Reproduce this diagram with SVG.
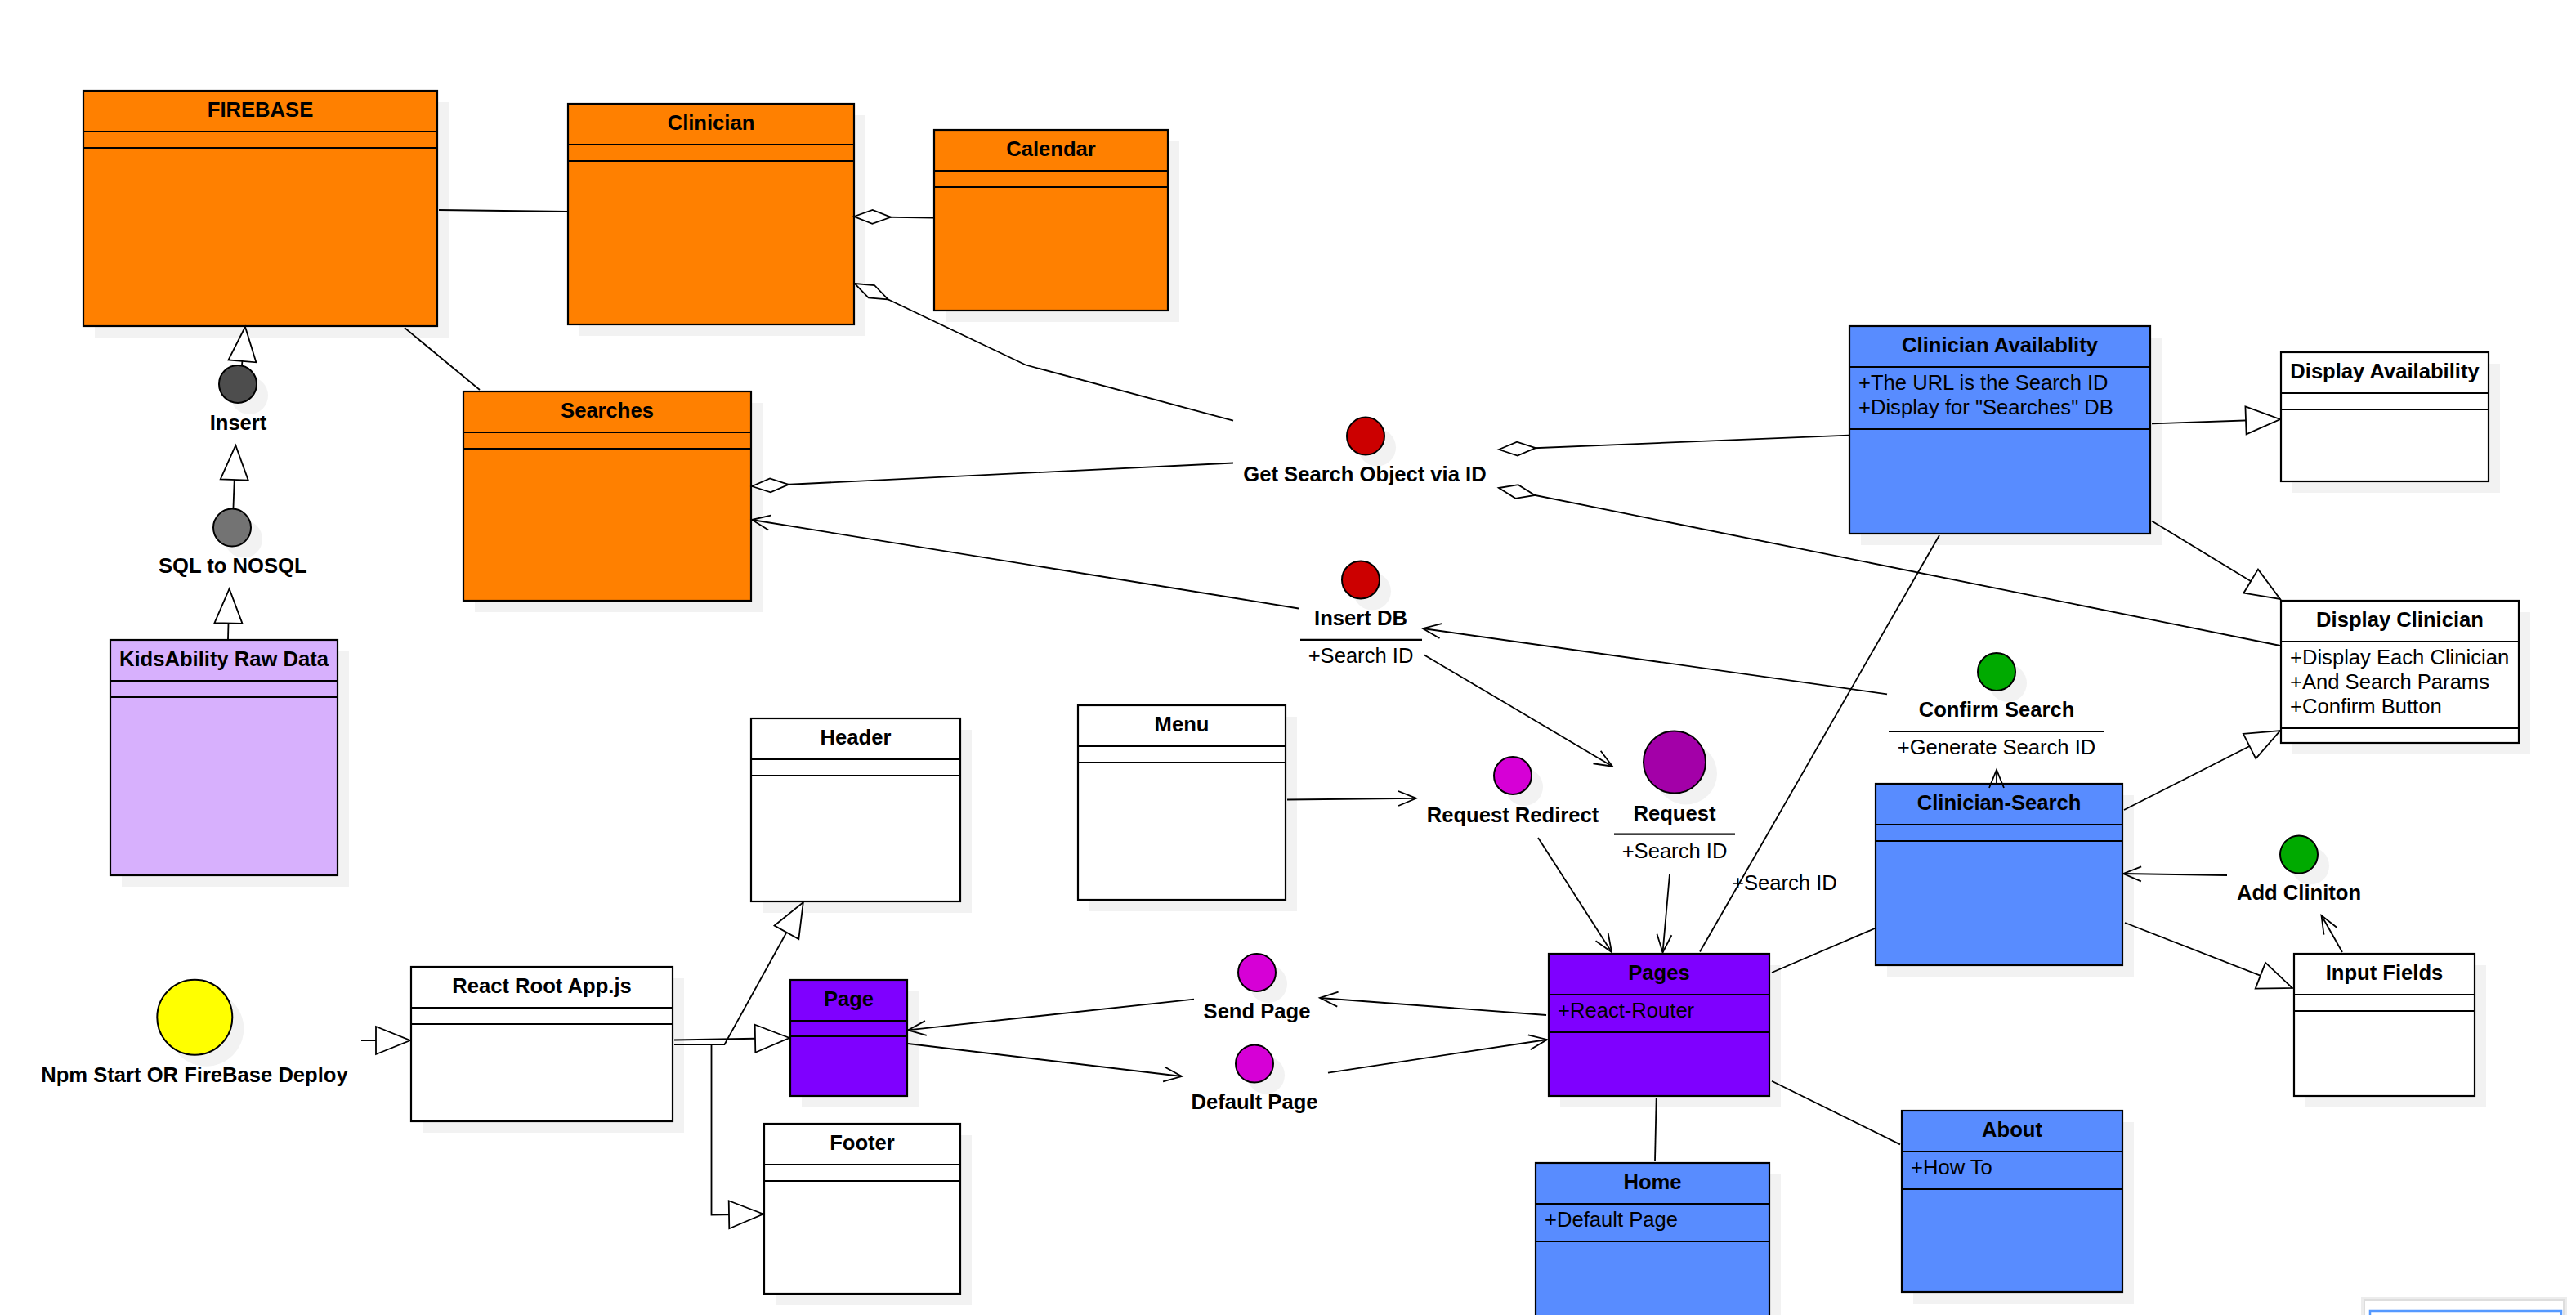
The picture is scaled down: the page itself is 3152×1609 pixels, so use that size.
<svg xmlns="http://www.w3.org/2000/svg" width="3152" height="1609" viewBox="0 0 3152 1609">
<style>
.bg{fill:#ffffff}
.sh{fill:#f2f2f2}
.box{stroke:#000;stroke-width:2.2}
.ln{stroke:#000;stroke-width:2.2}
.t{font-family:"Liberation Sans",Arial,sans-serif;font-size:25.6px;fill:#000;transform:translate(0px,-2px)}
.b{font-weight:bold}
.c{text-anchor:middle}
.e{fill:none;stroke:#000;stroke-width:1.8}
.or{fill:#ff8000}.pu{fill:#7f00ff}.bl{fill:#588cff}.wh{fill:#ffffff}.lv{fill:#d7b0fd}
.act{stroke:#000;stroke-width:2}
</style>
<defs>
<marker id="open" markerUnits="userSpaceOnUse" markerWidth="30" markerHeight="24" refX="22" refY="10" orient="auto" overflow="visible"><path d="M0,1 L22,10 L0,19" fill="none" stroke="#000" stroke-width="1.8"/></marker>
<marker id="tri" markerUnits="userSpaceOnUse" markerWidth="46" markerHeight="38" refX="42" refY="17" orient="auto" overflow="visible"><path d="M0,0 L42,17 L0,34 Z" fill="#fff" stroke="#000" stroke-width="1.8"/></marker>
<marker id="dia" markerUnits="userSpaceOnUse" markerWidth="48" markerHeight="20" refX="0" refY="9" orient="auto" overflow="visible"><path d="M0,9 L22.5,0.5 L45,9 L22.5,17.5 Z" fill="#fff" stroke="#000" stroke-width="1.8"/></marker>
</defs>
<rect class="bg" x="0" y="0" width="3152" height="1609"/>

<g id="firebase">
<rect class="sh" x="116" y="125" width="433" height="288"/>
<rect class="box or" x="102" y="111" width="433" height="288"/>
<line class="ln" x1="102" y1="161" x2="535" y2="161"/><line class="ln" x1="102" y1="181" x2="535" y2="181"/>
<text class="t b c" x="318.5" y="145">FIREBASE</text>
</g>
<g id="clinician">
<rect class="sh" x="709" y="141" width="350" height="270"/>
<rect class="box or" x="695" y="127" width="350" height="270"/>
<line class="ln" x1="695" y1="177" x2="1045" y2="177"/><line class="ln" x1="695" y1="197" x2="1045" y2="197"/>
<text class="t b c" x="870" y="161">Clinician</text>
</g>
<g id="calendar">
<rect class="sh" x="1157" y="173" width="286" height="221"/>
<rect class="box or" x="1143" y="159" width="286" height="221"/>
<line class="ln" x1="1143" y1="209" x2="1429" y2="209"/><line class="ln" x1="1143" y1="229" x2="1429" y2="229"/>
<text class="t b c" x="1286" y="193">Calendar</text>
</g>
<g id="searches">
<rect class="sh" x="581" y="493" width="352" height="256"/>
<rect class="box or" x="567" y="479" width="352" height="256"/>
<line class="ln" x1="567" y1="529" x2="919" y2="529"/><line class="ln" x1="567" y1="549" x2="919" y2="549"/>
<text class="t b c" x="743" y="513">Searches</text>
</g>
<g id="kidsability">
<rect class="sh" x="149" y="797" width="278" height="288"/>
<rect class="box lv" x="135" y="783" width="278" height="288"/>
<line class="ln" x1="135" y1="833" x2="413" y2="833"/><line class="ln" x1="135" y1="853" x2="413" y2="853"/>
<text class="t b c" x="274" y="817">KidsAbility Raw Data</text>
</g>
<g id="react-root">
<rect class="sh" x="517" y="1197" width="320" height="189"/>
<rect class="box wh" x="503" y="1183" width="320" height="189"/>
<line class="ln" x1="503" y1="1233" x2="823" y2="1233"/><line class="ln" x1="503" y1="1253" x2="823" y2="1253"/>
<text class="t b c" x="663" y="1217">React Root App.js</text>
</g>
<g id="header">
<rect class="sh" x="933" y="893" width="256" height="224"/>
<rect class="box wh" x="919" y="879" width="256" height="224"/>
<line class="ln" x1="919" y1="929" x2="1175" y2="929"/><line class="ln" x1="919" y1="949" x2="1175" y2="949"/>
<text class="t b c" x="1047" y="913">Header</text>
</g>
<g id="menu">
<rect class="sh" x="1333" y="877" width="254" height="238"/>
<rect class="box wh" x="1319" y="863" width="254" height="238"/>
<line class="ln" x1="1319" y1="913" x2="1573" y2="913"/><line class="ln" x1="1319" y1="933" x2="1573" y2="933"/>
<text class="t b c" x="1446" y="897">Menu</text>
</g>
<g id="page">
<rect class="sh" x="981" y="1213" width="143" height="142"/>
<rect class="box pu" x="967" y="1199" width="143" height="142"/>
<line class="ln" x1="967" y1="1249" x2="1110" y2="1249"/><line class="ln" x1="967" y1="1268" x2="1110" y2="1268"/>
<text class="t b c" x="1038.5" y="1233">Page</text>
</g>
<g id="footer">
<rect class="sh" x="949" y="1389" width="240" height="208"/>
<rect class="box wh" x="935" y="1375" width="240" height="208"/>
<line class="ln" x1="935" y1="1425" x2="1175" y2="1425"/><line class="ln" x1="935" y1="1445" x2="1175" y2="1445"/>
<text class="t b c" x="1055" y="1409">Footer</text>
</g>
<g id="pages">
<rect class="sh" x="1909" y="1181" width="270" height="174"/>
<rect class="box pu" x="1895" y="1167" width="270" height="174"/>
<line class="ln" x1="1895" y1="1217" x2="2165" y2="1217"/><line class="ln" x1="1895" y1="1263" x2="2165" y2="1263"/>
<text class="t b c" x="2030" y="1201">Pages</text>
<text class="t" x="1906" y="1247">+React-Router</text>
</g>
<g id="home">
<rect class="sh" x="1893" y="1437" width="286" height="260"/>
<rect class="box bl" x="1879" y="1423" width="286" height="260"/>
<line class="ln" x1="1879" y1="1473" x2="2165" y2="1473"/><line class="ln" x1="1879" y1="1519" x2="2165" y2="1519"/>
<text class="t b c" x="2022" y="1457">Home</text>
<text class="t" x="1890" y="1503">+Default Page</text>
</g>
<g id="about">
<rect class="sh" x="2341" y="1373" width="270" height="222"/>
<rect class="box bl" x="2327" y="1359" width="270" height="222"/>
<line class="ln" x1="2327" y1="1409" x2="2597" y2="1409"/><line class="ln" x1="2327" y1="1455" x2="2597" y2="1455"/>
<text class="t b c" x="2462" y="1393">About</text>
<text class="t" x="2338" y="1439">+How To</text>
</g>
<g id="clinician-search">
<rect class="sh" x="2309" y="973" width="302" height="222"/>
<rect class="box bl" x="2295" y="959" width="302" height="222"/>
<line class="ln" x1="2295" y1="1009" x2="2597" y2="1009"/><line class="ln" x1="2295" y1="1029" x2="2597" y2="1029"/>
<text class="t b c" x="2446" y="993">Clinician-Search</text>
</g>
<g id="input-fields">
<rect class="sh" x="2821" y="1181" width="221" height="174"/>
<rect class="box wh" x="2807" y="1167" width="221" height="174"/>
<line class="ln" x1="2807" y1="1217" x2="3028" y2="1217"/><line class="ln" x1="2807" y1="1237" x2="3028" y2="1237"/>
<text class="t b c" x="2917.5" y="1201">Input Fields</text>
</g>
<g id="clinician-availability">
<rect class="sh" x="2277" y="413" width="368" height="254"/>
<rect class="box bl" x="2263" y="399" width="368" height="254"/>
<line class="ln" x1="2263" y1="449" x2="2631" y2="449"/><line class="ln" x1="2263" y1="525" x2="2631" y2="525"/>
<text class="t b c" x="2447" y="433">Clinician Availablity</text>
<text class="t" x="2274" y="479">+The URL is the Search ID</text>
<text class="t" x="2274" y="509">+Display for "Searches" DB</text>
</g>
<g id="display-availability">
<rect class="sh" x="2805" y="445" width="254" height="158"/>
<rect class="box wh" x="2791" y="431" width="254" height="158"/>
<line class="ln" x1="2791" y1="481" x2="3045" y2="481"/><line class="ln" x1="2791" y1="501" x2="3045" y2="501"/>
<text class="t b c" x="2918" y="465">Display Availability</text>
</g>
<g id="display-clinician">
<rect class="sh" x="2805" y="749" width="291" height="174"/>
<rect class="box wh" x="2791" y="735" width="291" height="174"/>
<line class="ln" x1="2791" y1="785" x2="3082" y2="785"/><line class="ln" x1="2791" y1="891" x2="3082" y2="891"/>
<text class="t b c" x="2936.5" y="769">Display Clinician</text>
<text class="t" x="2802" y="815">+Display Each Clinician</text>
<text class="t" x="2802" y="845">+And Search Params</text>
<text class="t" x="2802" y="875">+Confirm Button</text>
</g>

<g id="insert">
<circle class="sh" cx="305" cy="484" r="23"/>
<circle class="act" fill="#4d4d4d" cx="291" cy="470" r="23"/>
<text class="t b c" x="291.5" y="527.5">Insert</text>
</g>
<g id="sql-to-nosql">
<circle class="sh" cx="298" cy="659.6" r="23"/>
<circle class="act" fill="#737373" cx="284" cy="645.6" r="23"/>
<text class="t b c" x="284.8" y="703.3">SQL to NOSQL</text>
</g>
<g id="get-search-object">
<circle class="sh" cx="1685" cy="547.6" r="23"/>
<circle class="act" fill="#cc0000" cx="1671" cy="533.6" r="23"/>
<text class="t b c" x="1670" y="591">Get Search Object via ID</text>
</g>
<g id="insert-db">
<circle class="sh" cx="1679" cy="723.5" r="23"/>
<circle class="act" fill="#cc0000" cx="1665" cy="709.5" r="23"/>
<text class="t b c" x="1665" y="767">Insert DB</text>
<line class="ln" x1="1591" y1="782.8" x2="1740" y2="782.8"/>
<text class="t c" x="1665" y="813">+Search ID</text>
</g>
<g id="request">
<circle class="sh" cx="2063" cy="946.5" r="38"/>
<circle class="act" fill="#a300a8" cx="2049" cy="932.5" r="38"/>
<text class="t b c" x="2049" y="1005.7">Request</text>
<line class="ln" x1="1975" y1="1020.7" x2="2123" y2="1020.7"/>
<text class="t c" x="2049" y="1052">+Search ID</text>
</g>
<g id="request-redirect">
<circle class="sh" cx="1865" cy="963" r="23"/>
<circle class="act" fill="#d600d6" cx="1851" cy="949" r="23"/>
<text class="t b c" x="1851" y="1007.7">Request Redirect</text>
</g>
<g id="confirm-search">
<circle class="sh" cx="2457" cy="836" r="23"/>
<circle class="act" fill="#00aa00" cx="2443" cy="822" r="23"/>
<text class="t b c" x="2443" y="879">Confirm Search</text>
<line class="ln" x1="2311" y1="895" x2="2575" y2="895"/>
<text class="t c" x="2443" y="925">+Generate Search ID</text>
</g>
<g id="add-cliniton">
<circle class="sh" cx="2827" cy="1059.6" r="23"/>
<circle class="act" fill="#00aa00" cx="2813" cy="1045.6" r="23"/>
<text class="t b c" x="2813" y="1103.4">Add Cliniton</text>
</g>
<g id="send-page">
<circle class="sh" cx="1552" cy="1204" r="23"/>
<circle class="act" fill="#d600d6" cx="1538" cy="1190" r="23"/>
<text class="t b c" x="1538" y="1247.7">Send Page</text>
</g>
<g id="default-page">
<circle class="sh" cx="1549" cy="1315.6" r="23"/>
<circle class="act" fill="#d600d6" cx="1535" cy="1301.6" r="23"/>
<text class="t b c" x="1535" y="1359.4">Default Page</text>
</g>
<g id="npm-start">
<circle class="sh" cx="252.3" cy="1258.7" r="46"/>
<circle class="act" fill="#ffff00" cx="238.3" cy="1244.7" r="46"/>
<text class="t b c" x="238" y="1325.7">Npm Start OR FireBase Deploy</text>
</g>

<g id="connectors">
<path class="e" d="M537,257 L695,259"/>
<path class="e" d="M495,401 L587,477"/>
<path class="e" d="M296,447 L300,400" marker-end="url(#tri)"/>
<path class="e" d="M285.5,621 L288.3,545" marker-end="url(#tri)"/>
<path class="e" d="M279,782 L280.6,720.5" marker-end="url(#tri)"/>
<path class="e" d="M1045,265 L1142,266.7" marker-start="url(#dia)"/>
<path class="e" d="M1046,347 L1255,446.5 L1509,514.7" marker-start="url(#dia)"/>
<path class="e" d="M920,595 L1509,566.5" marker-start="url(#dia)"/>
<path class="e" d="M1589,744.5 L920,636" marker-end="url(#open)"/>
<path class="e" d="M1834,550 L2262,532.6" marker-start="url(#dia)"/>
<path class="e" d="M1834,597 L2790,790" marker-start="url(#dia)"/>
<path class="e" d="M2309,849.4 L1741,769" marker-end="url(#open)"/>
<path class="e" d="M1742,801 L1973,937.7" marker-end="url(#open)"/>
<path class="e" d="M1575,978.5 L1733,976.8" marker-end="url(#open)"/>
<path class="e" d="M1882,1025 L1972,1165" marker-end="url(#open)"/>
<path class="e" d="M2043,1069.5 L2034.5,1165.4" marker-end="url(#open)"/>
<path class="e" d="M2373,655 L2080,1164.5"/>
<text class="t" x="2119" y="1091">+Search ID</text>
<path class="e" d="M2633,518.4 L2790,513" marker-end="url(#tri)"/>
<path class="e" d="M2633,637.4 L2790,733" marker-end="url(#tri)"/>
<path class="e" d="M2443,959 L2443,942" marker-end="url(#open)"/>
<path class="e" d="M2599,991 L2790,894" marker-end="url(#tri)"/>
<path class="e" d="M2725,1071 L2598,1069" marker-end="url(#open)"/>
<path class="e" d="M2866,1165 L2840.5,1120" marker-end="url(#open)"/>
<path class="e" d="M2600,1129 L2805,1209" marker-end="url(#tri)"/>
<path class="e" d="M2168,1190 L2294,1136"/>
<path class="e" d="M2168,1322.7 L2325,1400.4"/>
<path class="e" d="M2026.7,1343 L2025,1421"/>
<path class="e" d="M1892,1242 L1615,1221" marker-end="url(#open)"/>
<path class="e" d="M1461,1222.6 L1111,1260.4" marker-end="url(#open)"/>
<path class="e" d="M1111,1277 L1446,1317" marker-end="url(#open)"/>
<path class="e" d="M1625,1312.7 L1893,1272" marker-end="url(#open)"/>
<path class="e" d="M442,1273 L502,1273" marker-end="url(#tri)"/>
<path class="e" d="M825,1272.5 L966,1270" marker-end="url(#tri)"/>
<path class="e" d="M825,1278 L886.5,1278 L982.8,1104" marker-end="url(#tri)"/>
<path class="e" d="M825,1278 L870.5,1278 L870.5,1486.6 L934,1485.5" marker-end="url(#tri)"/>
</g>

<g id="outline-widget">
<rect x="2889" y="1587" width="252" height="48" fill="#ececec"/>
<rect x="2893" y="1591" width="244" height="40" fill="#ffffff" stroke="#dddddd" stroke-width="2"/>
<rect x="2900" y="1604" width="234" height="30" fill="none" stroke="#5599ff" stroke-width="2.5"/>
</g>
</svg>
